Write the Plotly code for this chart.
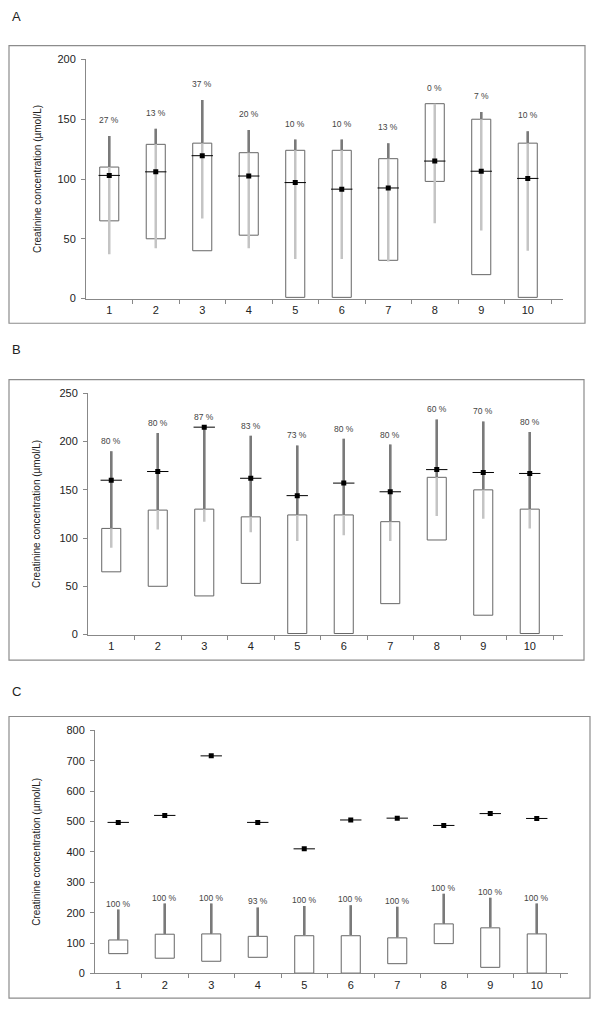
import plotly.graph_objects as go

# page body has an 8px margin, so the figure is shrunk and coordinates shifted
OFF = 8
W, H = 600 - OFF, 1013 - OFF

# Data
groups = list(range(1, 11))
box_low = [65, 50, 40, 53, 1, 1, 32, 98, 20, 1]
box_high = [110, 129, 130, 122, 124, 124, 117, 163, 150, 130]

mean_a = [103, 106, 119.5, 102.5, 97, 91.5, 92.5, 115, 106.5, 100.5]
upper_a = [136, 142, 166, 141, 133, 133, 130, 163, 156, 140]
lower_a = [37, 42, 67, 42, 33, 33, 31, 63, 57, 40]
pct_a = ["27 %", "13 %", "37 %", "20 %", "10 %", "10 %", "13 %", "0 %", "7 %", "10 %"]

mean_b = [160, 169, 215, 162, 144, 157, 148, 171, 168, 167]
upper_b = [190, 209, 215, 206, 196, 203, 197, 223, 221, 210]
lower_b = [90, 109, 117, 106, 97, 103, 97, 123, 120, 110]
pct_b = ["80 %", "80 %", "87 %", "83 %", "73 %", "80 %", "80 %", "60 %", "70 %", "80 %"]

mean_c = [497, 520, 716, 497, 410, 505, 511, 487, 526, 510]
upper_c = [210, 230, 230, 217, 222, 224, 219, 262, 249, 230]
lower_c = box_high
pct_c = ["100 %", "100 %", "100 %", "93 %", "100 %", "100 %", "100 %", "100 %", "100 %", "100 %"]

y_title = "Creatinine concentration (µmol/L)"

DARK = "#7a7a7a"
LIGHT = "#c4c4c4"
AX = "#888888"
FONT = "Liberation Sans, Arial, sans-serif"


def px(v):
    return (v - OFF) / W


def py(v):
    return 1 - (v - OFF) / H


# panel geometry in page pixels
panels = [
    dict(name="A", frame=(9, 40, 585, 321), x0=86, x1=563, yt=54, yb=296, ymax=200, dtick=50,
         letter_y=11, mean=mean_a, up=upper_a, lo=lower_a, pct=pct_a, shift=9),
    dict(name="B", frame=(9, 378, 584, 662), x0=88, x1=563, yt=392, yb=636, ymax=250, dtick=50,
         letter_y=348, mean=mean_b, up=upper_b, lo=lower_b, pct=pct_b, shift=3),
    dict(name="C", frame=(9, 719, 590, 1004), x0=95, x1=568, yt=733, yb=979, ymax=800, dtick=100,
         letter_y=694, mean=mean_c, up=upper_c, lo=lower_c, pct=pct_c, shift=-1),
]

fig = go.Figure()
annotations = []
shapes = []

for k, p in enumerate(panels):
    sfx = "" if k == 0 else str(k + 1)
    xa, ya = "x" + sfx, "y" + sfx
    spacing = 46.5
    xr = [0.5, 0.5 + (p["x1"] - p["x0"]) / spacing]

    # boxes
    fig.add_trace(go.Bar(
        x=groups, y=[h - l for h, l in zip(box_high, box_low)], base=box_low,
        width=0.41, marker=dict(color="white", line=dict(color="#666666", width=1)),
        xaxis=xa, yaxis=ya, showlegend=False, hoverinfo="skip"))

    # light range line (full), then dark part above the box
    lx, ly, dx, dy = [], [], [], []
    for g, lo, up, bh in zip(groups, p["lo"], p["up"], box_high):
        lx += [g, g, None]
        ly += [lo, up, None]
        if up > bh:
            dx += [g, g, None]
            dy += [max(bh, lo), up, None]
    fig.add_trace(go.Scatter(x=lx, y=ly, mode="lines", line=dict(color=LIGHT, width=2.5),
                             xaxis=xa, yaxis=ya, showlegend=False, hoverinfo="skip"))
    fig.add_trace(go.Scatter(x=dx, y=dy, mode="lines", line=dict(color=DARK, width=2.5),
                             xaxis=xa, yaxis=ya, showlegend=False, hoverinfo="skip"))

    # means
    fig.add_trace(go.Scatter(
        x=groups, y=p["mean"], mode="markers",
        marker=dict(symbol="square", size=5, color="black"),
        error_x=dict(type="constant", value=0.23, width=0, color="black", thickness=1),
        xaxis=xa, yaxis=ya, showlegend=False, hoverinfo="skip"))

    for g, up, t in zip(groups, p["up"], p["pct"]):
        annotations.append(dict(x=g, y=up, xref=xa, yref=ya, text=t, showarrow=False,
                                yanchor="bottom", yshift=p["shift"],
                                font=dict(family=FONT, size=8.5, color="#444444")))

    xd = [px(p["x0"]), px(p["x1"])]
    yd = [py(p["yb"]), py(p["yt"])]
    fig.layout["xaxis" + sfx] = dict(
        domain=xd, range=xr, anchor=ya, showgrid=False, zeroline=False,
        showline=True, linecolor=AX, linewidth=1,
        tickmode="array", tickvals=groups, ticktext=[str(g) for g in groups], ticks="",
        ticklabelstandoff=1,
        minor=dict(tickmode="array", tickvals=[g + 0.5 for g in groups],
                   ticks="outside", ticklen=4, tickcolor=AX, tickwidth=1),
        tickfont=dict(family=FONT, size=11, color="#222222"), fixedrange=True)
    fig.layout["yaxis" + sfx] = dict(
        domain=yd, range=[0, p["ymax"]], anchor=xa, showgrid=False, zeroline=False,
        showline=True, linecolor=AX, linewidth=1, dtick=p["dtick"],
        ticks="outside", ticklen=4, tickcolor=AX, ticklabelstandoff=3,
        tickfont=dict(family=FONT, size=11, color="#222222"), fixedrange=True)

    fx0, fy0, fx1, fy1 = p["frame"]
    shapes.append(dict(type="rect", xref="paper", yref="paper",
                       x0=px(fx0), x1=px(fx1), y0=py(fy1), y1=py(fy0),
                       line=dict(color="#8c8c8c", width=1.2)))

    annotations.append(dict(x=px(37), y=(yd[0] + yd[1]) / 2, xref="paper", yref="paper",
                            text=y_title, textangle=-90, showarrow=False,
                            xanchor="center", yanchor="middle",
                            font=dict(family="Liberation Sans Narrow, Arial Narrow, " + FONT,
                                      size=10, color="#222222")))
    annotations.append(dict(x=px(10), y=py(p["letter_y"]), xref="paper", yref="paper",
                            text=p["name"], showarrow=False, xanchor="left", yanchor="middle",
                            font=dict(family=FONT, size=13, color="#222222")))

fig.update_layout(
    width=W, height=H,
    margin=dict(l=0, r=0, t=0, b=0),
    paper_bgcolor="white", plot_bgcolor="white",
    barmode="overlay",
    shapes=shapes, annotations=annotations,
)

fig.write_html("out.html")
